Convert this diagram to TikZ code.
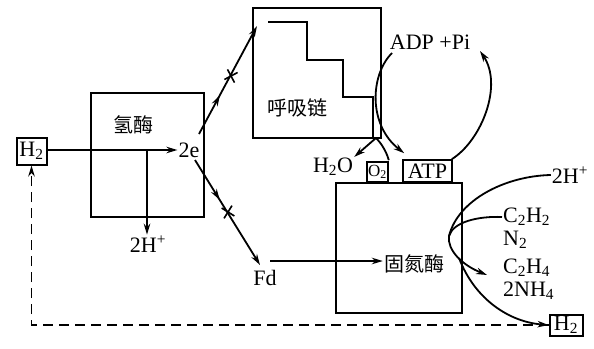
\documentclass[tikz,border=0pt]{standalone}
\usepackage{fontspec}
\setmainfont{Liberation Serif}
\newfontfamily\cjk{Noto Sans CJK SC}
\usetikzlibrary{arrows.meta,decorations.markings,calc,shapes.misc}
\begin{document}
\begin{tikzpicture}[x=1pt,y=-1pt,
  box/.style={draw, line width=2.2pt, inner sep=0pt},
  lbl/.style={font=\fontsize{22}{24}\selectfont, inner sep=1pt},
  zh/.style={font=\cjk\fontsize{20}{22}\selectfont, inner sep=1pt},
  con/.style={line width=1.8pt},
  tip/.style={-{Stealth[length=11pt,width=6.5pt]}},
  midtip/.style={postaction={decorate},decoration={markings, mark=at position #1 with {\arrow{Stealth[length=11pt,width=6.5pt]}}}},
  crs/.style={draw, cross out, line width=1.6pt, minimum size=9pt, inner sep=0pt},
  dsh/.style={line width=1.8pt, dash pattern=on 10pt off 6pt}
  ]
\useasboundingbox (0,0) rectangle (594,348);

% boxes
\node[box, minimum width=113pt, minimum height=124pt] (hyd) at (147.5,155) {};
\node[box, minimum width=128pt, minimum height=130pt] (resp) at (317,73) {};
\node[box, minimum width=126pt, minimum height=130pt] (nit) at (399,248) {};

% labels
\node[zh] (hydl) at (133,125) {氢酶};
\node[zh] (respl) at (297,108) {呼吸链};
\node[zh] (nitl) at (414,264) {固氮酶};

\node[box, lbl, line width=2pt, minimum width=30pt, minimum height=27pt] (h2l) at (31.5,151) {H\textsubscript{2}};
\node[box, lbl, line width=2pt, minimum width=33pt, minimum height=21pt] (h2r) at (566,325) {H\textsubscript{2}};
\node[lbl] (e2) at (189,150) {2e};
\node[lbl] (hp) at (148,244) {2H\textsuperscript{+}};
\node[lbl] (fd) at (265,278) {Fd};
\node[lbl] (h2o) at (333,167) {H\textsubscript{2}O};
\node[box, line width=1.6pt, font=\fontsize{17}{18}\selectfont, minimum width=21pt, minimum height=20pt] (o2) at (377.5,172) {O\textsubscript{2}};
\node[box, lbl, line width=1.6pt, minimum width=49pt, minimum height=22pt] (atp) at (427.5,171) {ATP};
\node[lbl] (adp) at (430,42) {ADP +Pi};
\node[lbl] (hpr) at (570,175) {2H\textsuperscript{+}};
\node[lbl, anchor=west] (c2h2) at (502,217) {C\textsubscript{2}H\textsubscript{2}};
\node[lbl, anchor=west] (n2) at (502,240) {N\textsubscript{2}};
\node[lbl, anchor=west] (c2h4) at (502,268) {C\textsubscript{2}H\textsubscript{4}};
\node[lbl, anchor=west] (nh4) at (502,291) {2NH\textsubscript{4}};

% staircase
\draw[line width=2.2pt] (268,22) -- (307,22) -- (307,60) -- (343,60) -- (343,97) -- (373,97) -- (373,138);

% hydrogenase connectors
\coordinate (jn) at (147,150);
\draw[con,tip] (h2l.east |- jn) -- (e2.west);
\draw[con,tip] (jn) -- (jn |- hp.north);

\coordinate (up0) at (199,134);
\coordinate (rtip) at (257,26);
\draw[con,tip,midtip=0.36] (up0) -- (rtip);
\node[crs, rotate=-17] (x1) at (231,76) {};

\coordinate (dn0) at (195,160);
\coordinate (dtip) at (260,265);
\draw[con,tip,midtip=0.38] (dn0) -- (dtip);
\node[crs, rotate=13] (x2) at (228,212) {};

% Fd to nitrogenase
\coordinate (fdout) at (270,261);
\draw[con,tip] (fdout) -- (fdout -| nitl.west);

% respiratory chain outputs
\coordinate (rc) at (376,138);
\draw[con,tip] (rc) -- (h2o.north east);
\draw[con] ($(o2.north east)+(0,-1)$) .. controls (386,150) and (380,142) .. (rc);
\coordinate (adpin) at (392,53);
\draw[con,tip] (adpin) .. controls (370,75) and (368,125) .. ($(atp.north west)+(2,-6)$);
\coordinate (adptip) at (480,51);
\draw[con,tip] ($(atp.north east)+(-1,0)$) .. controls (482,140) and (503,85) .. (adptip);

% nitrogenase substrates/products
\coordinate (loop) at (449,236);
\draw[con] (hpr.west) .. controls (505,176) and (458,200) .. (loop);
\draw[con] (c2h2.west) .. controls (478,216) and (453,222) .. (loop);
\coordinate (pout) at (487,275);
\draw[con,tip] (loop) .. controls (447,250) and (462,265) .. (pout);
\coordinate (h2src) at (459,258);
\draw[con,tip] (h2src) .. controls (475,300) and (510,322) .. (h2r.west);

% dashed return
\draw[dsh,tip] (h2r.west) -| (h2l.south);
\end{tikzpicture}
\end{document}
